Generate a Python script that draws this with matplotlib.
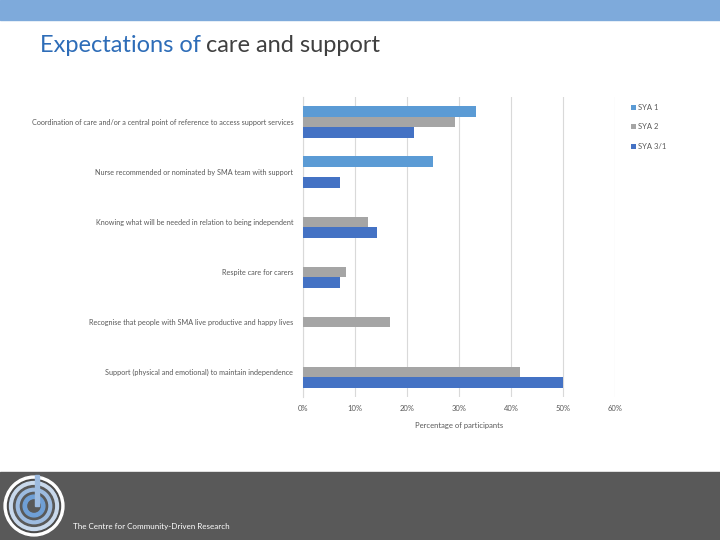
import matplotlib.pyplot as plt
import matplotlib.patches as mpatches
import numpy as np

plt.rcParams['font.family'] = ['Lato', 'DejaVu Sans']

categories = [
    "Coordination of care and/or a central point of reference to access support services",
    "Nurse recommended or nominated by SMA team with support",
    "Knowing what will be needed in relation to being independent",
    "Respite care for carers",
    "Recognise that people with SMA live productive and happy lives",
    "Support (physical and emotional) to maintain independence",
]
series_names = ["SYA 1", "SYA 2", "SYA 3/1"]
sya1 = [33.3, 25.0, 0, 0, 0, 0]
sya2 = [29.2, 0, 12.5, 8.3, 16.7, 41.7]
sya3 = [21.4, 7.1, 14.3, 7.1, 0, 50.0]
colors = ["#5B9BD5", "#A5A5A5", "#4472C4"]
xticks = [0, 10, 20, 30, 40, 50, 60]

W, H = 720, 540
fig = plt.figure(figsize=(7.2, 5.4), dpi=100)
fig.patch.set_facecolor("white")

# header / footer bands
fig.add_artist(mpatches.Rectangle((0, 1 - 20 / H), 1, 20 / H, transform=fig.transFigure,
                                  color="#7EAADB", zorder=0))
fig.add_artist(mpatches.Rectangle((0, 0), 1, 68 / H, transform=fig.transFigure,
                                  color="#595959", zorder=0))

# logo
lax = fig.add_axes([0, 0, 68 / W, 68 / H])
lax.set_xlim(-1, 1)
lax.set_ylim(-1, 1)
lax.set_aspect("equal")
lax.axis("off")
for r, c in [(0.88, "white"), (0.78, "#4a4a4a"), (0.72, "#c9d9ec"), (0.6, "#595959"),
             (0.52, "#9dbbe0"), (0.4, "#595959"), (0.32, "#6f9fd6"), (0.18, "#595959")]:
    lax.add_patch(mpatches.Circle((0, 0), r, color=c))
lax.add_patch(mpatches.Rectangle((0.02, 0.0), 0.14, 0.9, color="#9dbbe0"))
fig.text(73 / W, 1 - 527 / H, "The Centre for Community-Driven Research", color="white",
         fontsize=5.8, va="center", ha="left")

# title
t1 = fig.text(40 / W, 1 - 45 / H, "Expectations of", color="#2E6DB8", fontsize=17,
              va="center", ha="left")
fig.canvas.draw()
bb = t1.get_window_extent()
fig.text(bb.x1 / W + 5 / W, 1 - 45 / H, "care and support", color="#404040", fontsize=17,
         va="center", ha="left")

# chart
ax = fig.add_axes([303 / W, 1 - 397 / H, 312 / W, 300 / H])
n = len(categories)
y = np.arange(n)
h = 0.207
for i, (vals, name) in enumerate(zip([sya1, sya2, sya3], series_names)):
    ax.barh(y + (i - 1) * h, vals, height=h, color=colors[i], label=name, zorder=3)
ax.set_ylim(n - 0.5, -0.5)
ax.set_xlim(0, 60)
ax.set_xticks(xticks)
ax.set_xticklabels([f"{t}%" for t in xticks])
ax.set_yticks(y)
ax.set_yticklabels(categories, fontsize=5.2)
ax.tick_params(axis="both", length=0, labelcolor="#595959")
ax.tick_params(axis="x", labelsize=5.5, pad=6)
ax.tick_params(axis="y", pad=7)
ax.grid(axis="x", color="#D9D9D9", linewidth=0.8, zorder=0)
for s in ["top", "right", "bottom"]:
    ax.spines[s].set_visible(False)
ax.spines["left"].set_color("#D9D9D9")
ax.set_xlabel("Percentage of participants", fontsize=5.5, color="#595959", labelpad=7)
ax.legend(loc="upper left", bbox_to_anchor=(1.03, 1.0), frameon=False, fontsize=5.5,
          handlelength=0.6, handleheight=0.6, handletextpad=0.3, labelcolor="#595959",
          labelspacing=1.65)

fig.savefig("out.png", dpi=100)
